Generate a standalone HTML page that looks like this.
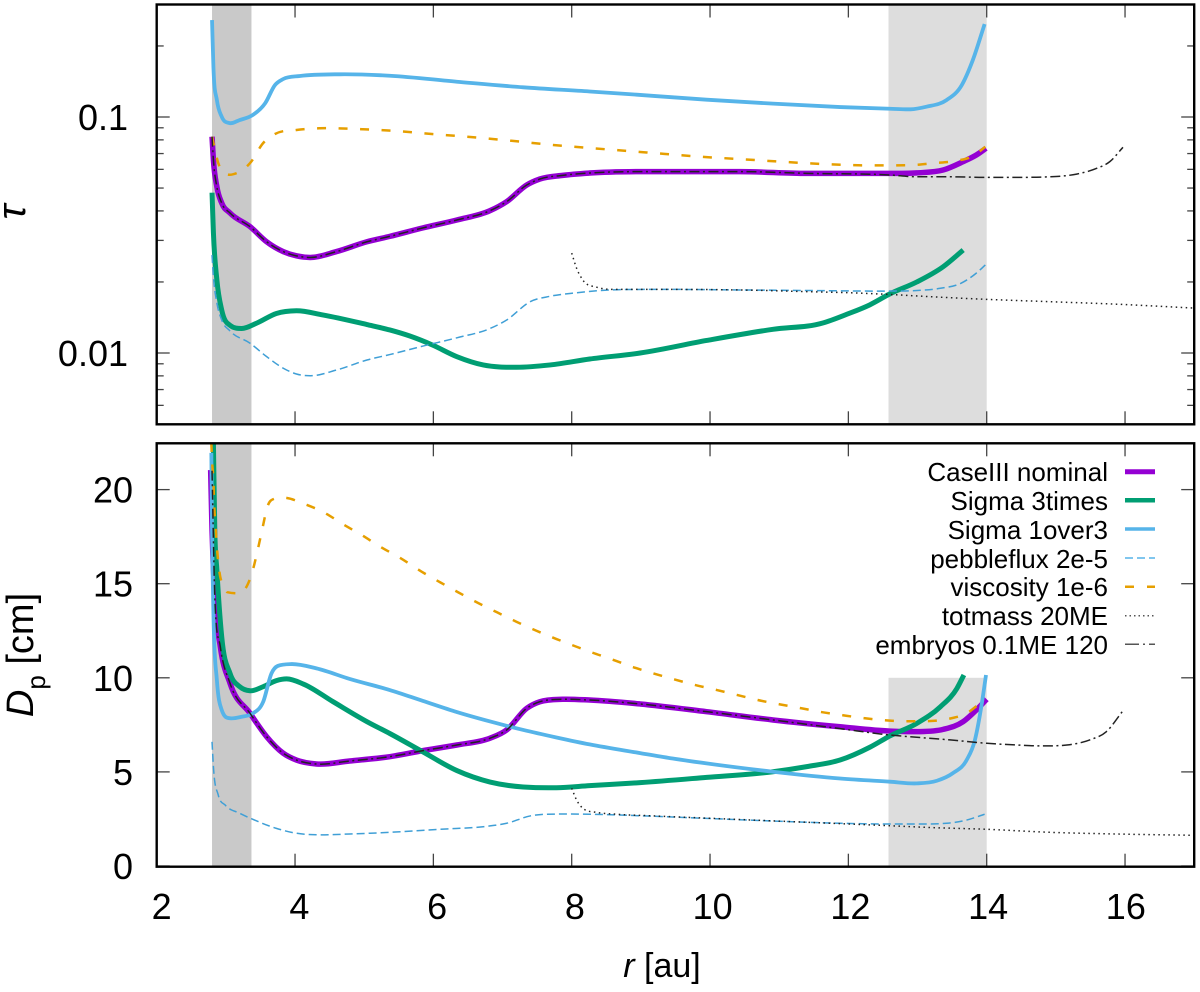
<!DOCTYPE html>
<html lang="en">
<head>
<meta charset="utf-8">
<title>Optical depth and pebble size versus radius</title>
<style>
html,body{margin:0;padding:0;background:#fff;}
svg{display:block;}
text{font-family:"Liberation Sans",sans-serif;fill:#000;}
</style>
</head>
<body>
<svg id="chart" xmlns="http://www.w3.org/2000/svg" width="1200" height="992" viewBox="0 0 1200 992">
  <defs>
    <clipPath id="clip-top"><rect x="156.7" y="4.5" width="1037.5" height="419.8"/></clipPath>
    <clipPath id="clip-bottom"><rect x="156.7" y="443.3" width="1037.5" height="423.4"/></clipPath>
  </defs>
  <g id="panel-top"></g>
  <g id="panel-bottom"></g>

  <text transform="translate(25,212) rotate(-90)" text-anchor="middle" font-size="40" font-style="italic">τ</text>
  <text transform="translate(33,655) rotate(-90)" text-anchor="middle" font-size="38"><tspan font-style="italic">D</tspan><tspan font-size="26" dy="12">p</tspan><tspan dy="-12"> [cm]</tspan></text>
  <text x="662" y="977" text-anchor="middle" font-size="34"><tspan font-style="italic">r</tspan> [au]</text>

  <g font-size="26" text-anchor="end">
    <g><text x="1108" y="481">CaseIII nominal</text><line x1="1125" x2="1155" y1="471.7" y2="471.7" stroke="#9400d3" stroke-width="5"/></g>
    <g><text x="1108" y="510">Sigma 3times</text><line x1="1125" x2="1155" y1="500.3" y2="500.3" stroke="#009e73" stroke-width="4.5"/></g>
    <g><text x="1108" y="539">Sigma 1over3</text><line x1="1125" x2="1155" y1="529" y2="529" stroke="#56b4e9" stroke-width="3.5"/></g>
    <g><text x="1108" y="568">pebbleflux 2e-5</text><line x1="1125" x2="1155" y1="558" y2="558" stroke="#56b4e9" stroke-width="1.5" stroke-dasharray="8 4"/></g>
    <g><text x="1108" y="596">viscosity 1e-6</text><line x1="1125" x2="1155" y1="586.7" y2="586.7" stroke="#e69f00" stroke-width="2.5" stroke-dasharray="9 13"/></g>
    <g><text x="1108" y="625">totmass 20ME</text><line x1="1125" x2="1155" y1="615.7" y2="615.7" stroke="#555" stroke-width="1.5" stroke-dasharray="1.5 3"/></g>
    <g><text x="1108" y="654">embryos 0.1ME 120</text><line x1="1125" x2="1155" y1="644.3" y2="644.3" stroke="#555" stroke-width="1.5" stroke-dasharray="14 4 2 4"/></g>
  </g>
</svg>

<script>
// ---- axis data ----
const xTicks = [2, 4, 6, 8, 10, 12, 14, 16];
const tauMajorTicks = [0.01, 0.1];
const tauMajorLabels = ["0.01", "0.1"];
const tauMinorTicks = [0.006, 0.007, 0.008, 0.009, 0.02, 0.03, 0.04, 0.05, 0.06, 0.07, 0.08, 0.09, 0.2];
const sizeTicks = [0, 5, 10, 15, 20];

// ---- shaded radial bands ----
const bandStarts = [2.8, 12.58];
const bandEnds = [3.37, 14.0];
const sizeBandTops = [22.5, 10];

// ---- optical depth panel (tau vs r) ----
const tauNominalR = [2.80,2.82,2.87,2.94,3.06,3.35,3.59,3.83,4.02,4.22,4.60,5.04,5.37,5.85,6.34,6.82,7.06,7.35,7.54,7.87,8.26,9.13,10.43,11.40,12.60,12.99,13.37,13.66,13.85,13.99];
const tauNominalV = [.0825,.0657,.0506,.0432,.0392,.0343,.0296,.0269,.0258,.0254,.0269,.0296,.0312,.0339,.0366,.0401,.0438,.0515,.0546,.0566,.0579,.0587,.0587,.0577,.0577,.0580,.0596,.0647,.0690,.0737];
const tauSigma3R = [2.80,2.82,2.87,2.94,3.06,3.23,3.45,3.73,4.02,4.40,5.04,5.37,5.66,5.99,6.34,6.72,7.20,7.69,8.26,8.99,9.95,10.91,11.63,11.98,12.31,12.60,12.99,13.37,13.66];
const tauSigma3V = [.0478,.0323,.0204,.0152,.0131,.0127,.0134,.0147,.0151,.0145,.0132,.01252,.0118,.0108,.00965,.0089,.0087,.0089,.00943,.0100,.0113,.0126,.0134,.0146,.0160,.0178,.0200,.0232,.0273];
const tauSigma1R = [2.80,2.82,2.87,2.94,3.05,3.20,3.39,3.57,3.71,3.83,4.07,4.65,5.37,6.34,7.30,8.26,8.99,9.95,10.91,11.88,12.60,12.90,13.13,13.42,13.64,13.80,13.97];
const tauSigma1V = [.2576,.1634,.1180,.1003,.0943,.0971,.1020,.1146,.1366,.1449,.1492,.1517,.1496,.1411,.1336,.1283,.1240,.1184,.1139,.1102,.1084,.1078,.1106,.1180,.1366,.1745,.2477];
const tauPebbleR = [2.80,2.82,2.87,2.94,3.06,3.35,3.59,3.83,4.02,4.22,4.60,5.04,5.37,5.85,6.34,6.82,7.06,7.40,7.69,8.07,8.55,9.13,10.43,11.40,12.60,12.99,13.33,13.62,13.85,13.98];
const tauPebbleV = [.0260,.0211,.0163,.0138,.0124,.0110,.00965,.00862,.00815,.00801,.00847,.00934,.00985,.0107,.0116,.0127,.0138,.0165,.0174,.0180,.0185,.0186,.0185,.0184,.0183,.0184,.0188,.0197,.0218,.0236];
const tauViscR = [2.80,2.89,3.03,3.16,3.35,3.54,3.71,4.02,4.36,4.98,5.52,5.85,6.48,7.11,7.73,8.31,8.94,9.23,9.85,10.48,11.01,11.63,12.26,12.60,12.93,13.22,13.57,13.80,13.98];
const tauViscV = [.0825,.0638,.0570,.0579,.0638,.0776,.0847,.0881,.0896,.0887,.0870,.0853,.0825,.0794,.0761,.0737,.0713,.0702,.0679,.0662,.0647,.0632,.0624,.0624,.0626,.0637,.0653,.0683,.0748];
const tauMassR = [8.00,8.07,8.16,8.36,8.65,9.13,10.43,11.40,12.02,12.60,13.22,13.95,14.91,15.88,17.00];
const tauMassV = [.0265,.0229,.0204,.0190,.0186,.0186,.0185,.0182,.0180,.0177,.0173,.0169,.0165,.0161,.0155];
const tauEmbryoR = [2.80,2.82,2.87,2.94,3.06,3.35,3.59,3.83,4.02,4.22,4.60,5.04,5.37,5.85,6.34,6.82,7.06,7.35,7.54,7.87,8.26,9.13,10.43,11.40,12.60,12.99,13.47,13.95,14.43,14.91,15.30,15.59,15.78,15.97];
const tauEmbryoV = [.0825,.0657,.0506,.0432,.0392,.0343,.0296,.0269,.0258,.0254,.0269,.0296,.0312,.0339,.0366,.0401,.0438,.0515,.0546,.0566,.0579,.0587,.0587,.0577,.0568,.0558,.0558,.0555,.0555,.0558,.0573,.0606,.0647,.0744];

// ---- pebble size panel (Dp vs r) ----
const sizeNominalR = [2.78,2.80,2.84,2.92,3.06,3.35,3.59,3.83,4.02,4.31,4.79,5.37,5.85,6.34,6.82,7.06,7.35,7.54,7.87,8.26,8.99,9.95,10.91,11.88,12.60,12.99,13.37,13.66,13.85,14.00];
const sizeNominalV = [21.04,17.85,14.31,11.65,9.71,8.11,6.87,5.99,5.63,5.42,5.58,5.81,6.13,6.43,6.79,7.23,8.38,8.73,8.86,8.82,8.61,8.20,7.76,7.40,7.17,7.14,7.26,7.67,8.29,8.86];
const sizeSigma3R = [2.82,2.84,2.87,2.94,3.06,3.20,3.35,3.54,3.73,3.88,4.12,4.55,5.04,5.37,5.85,6.34,6.82,7.30,7.78,8.26,8.99,9.95,10.91,11.40,11.88,12.31,12.60,12.99,13.33,13.57,13.67];
const sizeSigma3V = [22.48,17.85,15.73,12.18,10.24,9.53,9.31,9.53,9.85,9.94,9.67,8.73,7.67,7.04,6.06,5.07,4.46,4.20,4.16,4.27,4.43,4.71,5.01,5.28,5.63,6.31,6.91,7.58,8.46,9.44,10.15];
const sizeSigma1R = [2.79,2.80,2.82,2.87,2.94,3.06,3.23,3.39,3.54,3.66,3.75,3.95,4.31,4.79,5.37,5.85,6.34,6.82,7.30,7.78,8.26,8.99,9.46,9.95,10.91,11.88,12.60,12.99,13.28,13.51,13.71,13.83,13.93,13.99];
const sizeSigma1V = [21.95,17.85,13.44,9.88,8.29,7.85,7.93,8.11,8.73,10.24,10.63,10.73,10.50,9.94,9.35,8.77,8.18,7.68,7.23,6.83,6.46,6.00,5.71,5.45,5.01,4.65,4.48,4.39,4.53,4.93,5.63,6.70,8.65,10.15];
const sizePebbleR = [2.80,2.82,2.89,2.99,3.20,3.39,3.73,4.02,4.31,4.79,5.37,6.10,6.82,7.06,7.40,7.78,8.26,8.99,9.95,10.91,11.88,12.60,12.99,13.42,13.71,13.97];
const sizePebbleV = [6.60,5.28,3.77,3.24,2.80,2.48,2.00,1.74,1.66,1.70,1.79,1.95,2.13,2.27,2.66,2.76,2.75,2.67,2.53,2.39,2.27,2.23,2.23,2.27,2.44,2.75];
const sizeViscR = [2.79,2.80,2.82,2.83,2.85,2.87,2.90,2.99,3.02,3.20,3.39,3.46,3.53,3.60,3.69,3.83,4.14,4.43,4.69,4.98,5.23,5.52,5.83,6.10,6.36,6.64,6.92,7.20,7.49,7.78,8.07,8.29,8.58,8.87,9.13,9.46,9.78,10.10,10.39,10.69,11.01,11.32,11.61,11.92,12.24,12.55,12.84,13.15,13.49,13.71,13.87,13.99];
const sizeViscV = [22.48,21.57,20.42,19.29,18.12,16.97,15.83,14.77,14.55,14.5,15.73,16.79,17.96,19.09,19.50,19.57,19.23,18.76,18.17,17.55,16.97,16.37,15.64,15.07,14.54,13.99,13.48,12.98,12.50,12.06,11.65,11.35,10.98,10.59,10.29,9.94,9.62,9.35,9.09,8.82,8.59,8.38,8.18,8.01,7.85,7.74,7.69,7.70,7.85,8.11,8.55,8.91];
const sizeMassR = [8.00,8.07,8.16,8.36,8.65,9.13,10.43,12.02,12.60,13.22,14.00,14.91,15.88,17.00];
const sizeMassV = [4.13,3.51,3.07,2.85,2.75,2.67,2.47,2.23,2.14,2.04,1.95,1.79,1.70,1.63];
const sizeEmbryoR = [2.80,2.84,2.92,3.06,3.35,3.59,3.83,4.02,4.31,4.79,5.37,5.85,6.34,6.82,7.06,7.35,7.54,7.87,8.26,8.99,9.95,10.91,11.88,12.60,12.99,13.47,14.00,14.43,14.81,15.16,15.49,15.73,15.97];
const sizeEmbryoV = [21.0,14.31,11.65,9.71,8.11,6.87,5.99,5.63,5.42,5.58,5.81,6.13,6.43,6.79,7.23,8.38,8.73,8.86,8.82,8.61,8.20,7.76,7.30,6.96,6.84,6.70,6.52,6.43,6.38,6.43,6.70,7.14,8.25];

// ---- geometry and scales ----
const NS = "http://www.w3.org/2000/svg";
const plotLeft = 156.7, plotRight = 1194.2;
const xScale = r => plotLeft + (r - 2) * (plotRight - plotLeft) / 15;
const topTop = 4.5, topBottom = 424.3;
const tauScale = t => 117 - (Math.log10(t) + 1) * 236;
const botTop = 443.3, botBottom = 866.7;
const sizeScale = d => 866 - d * 18.82;

function mk(tag, attrs, parent) {
  const el = document.createElementNS(NS, tag);
  for (const k in attrs) el.setAttribute(k, attrs[k]);
  parent.appendChild(el);
  return el;
}

// Smooth cubic path through the sampled values, limited only where the slope changes sharply
function curvePath(xs, ys) {
  const n = xs.length;
  const slopes = [], tang = [];
  for (let i = 0; i < n - 1; i++) slopes.push((ys[i + 1] - ys[i]) / (xs[i + 1] - xs[i]));
  tang.push(slopes[0]);
  for (let i = 1; i < n - 1; i++) {
    const h0 = xs[i] - xs[i - 1], h1 = xs[i + 1] - xs[i];
    const s0 = slopes[i - 1], s1 = slopes[i];
    const p = (s0 * h1 + s1 * h0) / (h0 + h1);
    const lim = (s0 * s1 > 0 ? 3 : 1) * Math.min(Math.abs(s0), Math.abs(s1));
    tang.push(Math.sign(p) * Math.min(Math.abs(p), lim));
  }
  tang.push(slopes[n - 2]);
  let d = "M" + xs[0].toFixed(2) + " " + ys[0].toFixed(2);
  for (let i = 0; i < n - 1; i++) {
    const h = (xs[i + 1] - xs[i]) / 3;
    d += "C" + (xs[i] + h).toFixed(2) + " " + (ys[i] + tang[i] * h).toFixed(2) + " " +
         (xs[i + 1] - h).toFixed(2) + " " + (ys[i + 1] - tang[i + 1] * h).toFixed(2) + " " +
         xs[i + 1].toFixed(2) + " " + ys[i + 1].toFixed(2);
  }
  return d;
}

function drawSeries(parent, rs, vs, yFn, stroke, width, dash, name) {
  const p = mk("path", {
    d: curvePath(rs.map(xScale), vs.map(yFn)),
    fill: "none", stroke: stroke, "stroke-width": width,
    "stroke-dasharray": dash, "stroke-linejoin": "round"
  }, parent);
  
  
}

function drawTick(parent, x1, y1, x2, y2, name) {
  const t = mk("line", { x1: x1, y1: y1, x2: x2, y2: y2, stroke: "#444", "stroke-width": 1.3 }, parent);
  
  
}

function drawFrame(parent, yT, yB, name) {
  const f = mk("rect", {
    x: plotLeft, y: yT, width: plotRight - plotLeft, height: yB - yT,
    fill: "none", stroke: "#000", "stroke-width": 2.4
  }, parent);
  
  
}

function drawXTicks(parent, yT, yB, name) {
  xTicks.forEach(v => {
    drawTick(parent, xScale(v), yT, xScale(v), yT + 13, name);
    drawTick(parent, xScale(v), yB, xScale(v), yB - 13, name);
  });
}

function drawYLabel(parent, y, label, anchorX, name) {
  const t = mk("text", { x: anchorX, y: y + 13, "text-anchor": "end", "font-size": 36 }, parent);
  t.textContent = label;
  
  
}

// ---- top panel ----
const topG = document.getElementById("panel-top");
const bandFills = ["#c9c9c9", "#dddddd"];
bandStarts.forEach((s, i) => {
  const b = mk("rect", {
    x: xScale(s), y: topTop, width: xScale(bandEnds[i]) - xScale(s), height: topBottom - topTop, fill: bandFills[i]
  }, topG);
  
  
});
drawXTicks(topG, topTop, topBottom, 'top-x-tick');
tauMajorTicks.forEach((v, i) => {
  drawTick(topG, plotLeft, tauScale(v), plotLeft + 13, tauScale(v), 'tau-major-tick');
  drawTick(topG, plotRight, tauScale(v), plotRight - 13, tauScale(v), 'tau-major-tick');
  drawYLabel(topG, tauScale(v), tauMajorLabels[i], 128, 'tau-tick-label');
});
tauMinorTicks.forEach(v => {
  drawTick(topG, plotLeft, tauScale(v), plotLeft + 7, tauScale(v), 'tau-minor-tick');
  drawTick(topG, plotRight, tauScale(v), plotRight - 7, tauScale(v), 'tau-minor-tick');
});
const topSeries = mk("g", { "clip-path": "url(#clip-top)" }, topG);


drawSeries(topSeries, tauNominalR, tauNominalV, tauScale, "#9400d3", 5.5, "none", "tau-caseiii-nominal");
drawSeries(topSeries, tauSigma3R, tauSigma3V, tauScale, "#009e73", 5, "none", "tau-sigma-3times");
drawSeries(topSeries, tauSigma1R, tauSigma1V, tauScale, "#56b4e9", 3.8, "none", "tau-sigma-1over3");
drawSeries(topSeries, tauPebbleR, tauPebbleV, tauScale, "#3f9fd6", 1.5, "8 4", "tau-pebbleflux");
drawSeries(topSeries, tauViscR, tauViscV, tauScale, "#e69f00", 2.5, "9 12.5", "tau-viscosity");
drawSeries(topSeries, tauMassR, tauMassV, tauScale, "#222", 1.5, "1.5 3.5", "tau-totmass");
drawSeries(topSeries, tauEmbryoR, tauEmbryoV, tauScale, "#222", 1.5, "10 3.5 2 3.5", "tau-embryos");
drawFrame(topG, topTop, topBottom, 'tau-panel-frame');

// ---- bottom panel ----
const botG = document.getElementById("panel-bottom");
bandStarts.forEach((s, i) => {
  const b = mk("rect", {
    x: xScale(s), y: Math.max(botTop, sizeScale(sizeBandTops[i])),
    width: xScale(bandEnds[i]) - xScale(s),
    height: botBottom - Math.max(botTop, sizeScale(sizeBandTops[i])), fill: bandFills[i]
  }, botG);
  
  
});
drawXTicks(botG, botTop, botBottom, 'bottom-x-tick');
sizeTicks.forEach(v => {
  drawTick(botG, plotLeft, sizeScale(v), plotLeft + 13, sizeScale(v), 'size-tick');
  drawTick(botG, plotRight, sizeScale(v), plotRight - 13, sizeScale(v), 'size-tick');
  drawYLabel(botG, sizeScale(v), String(v), 133, 'size-tick-label');
});
xTicks.forEach(v => {
  const t = mk("text", { x: xScale(v) + 5 - (v - 2) * 0.3, y: 919, "text-anchor": "middle", "font-size": 36 }, botG);
  t.textContent = String(v);
  
  
});
const botSeries = mk("g", { "clip-path": "url(#clip-bottom)" }, botG);


drawSeries(botSeries, sizeNominalR, sizeNominalV, sizeScale, "#9400d3", 5.5, "none", "size-caseiii-nominal");
drawSeries(botSeries, sizeSigma3R, sizeSigma3V, sizeScale, "#009e73", 5, "none", "size-sigma-3times");
drawSeries(botSeries, sizeSigma1R, sizeSigma1V, sizeScale, "#56b4e9", 3.8, "none", "size-sigma-1over3");
drawSeries(botSeries, sizePebbleR, sizePebbleV, sizeScale, "#3f9fd6", 1.5, "8 4", "size-pebbleflux");
drawSeries(botSeries, sizeViscR, sizeViscV, sizeScale, "#e69f00", 2.5, "9 12.5", "size-viscosity");
drawSeries(botSeries, sizeMassR, sizeMassV, sizeScale, "#222", 1.5, "1.5 3.5", "size-totmass");
drawSeries(botSeries, sizeEmbryoR, sizeEmbryoV, sizeScale, "#222", 1.5, "10 3.5 2 3.5", "size-embryos");
drawFrame(botG, botTop, botBottom, 'size-panel-frame');
</script>
</body>
</html>
